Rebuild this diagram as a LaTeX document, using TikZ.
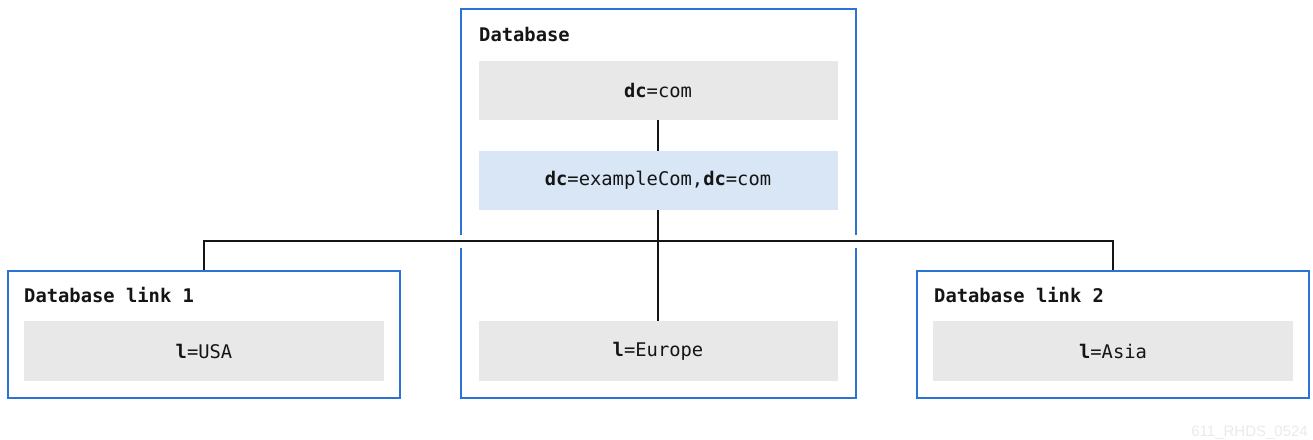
\documentclass[tikz,border=0pt]{standalone}
\usepackage{fontspec}
\setmonofont{DejaVu Sans Mono}
\setsansfont{Liberation Sans}
\definecolor{rhblue}{HTML}{2B74D6}
\definecolor{boxgray}{HTML}{E8E8E8}
\definecolor{boxblue}{HTML}{D8E6F5}
\definecolor{txt}{HTML}{151515}
\definecolor{wm}{HTML}{EAEAEA}
\tikzset{
  outerbox/.style={draw=rhblue, line width=1.6pt, fill=white, inner sep=0pt},
  entry/.style={fill=boxgray, inner sep=0pt, minimum width=359pt, minimum height=59pt,
    font=\ttfamily\fontsize{18.8}{21}\selectfont, text=txt},
  entryblue/.style={entry, fill=boxblue},
  title/.style={anchor=base west, inner sep=0pt, font=\ttfamily\bfseries\fontsize{18.8}{21}\selectfont, text=txt},
  conn/.style={draw=txt, line width=1.6pt},
  halo/.style={conn, preaction={draw=white, line width=13pt}},
}
\begin{document}
\begin{tikzpicture}[x=1pt,y=-1pt]
\useasboundingbox (0,0) rectangle (1313,439);
% outer boxes
\node[outerbox, minimum width=395pt, minimum height=389pt] (db) at (658.5,203.5) {};
\node[outerbox, minimum width=392pt, minimum height=127pt] (l1) at (204,334.5) {};
\node[outerbox, minimum width=392pt, minimum height=127pt] (l2) at (1113,334.5) {};
% titles
\node[title] (tdb) at (479,41) {Database};
\node[title] (tl1) at (24,302) {Database link 1};
\node[title] (tl2) at (934,302) {Database link 2};
% entries
\node[entry] (com) at (658,90.5) {\textbf{dc}=com};
\node[entryblue] (ex) at (658,180.5) {\textbf{dc}=exampleCom,\textbf{dc}=com};
\node[entry, minimum height=60pt] (eu) at (658,351) {\textbf{l}=Europe};
\node[entry, minimum width=360pt, minimum height=60pt] (usa) at (204,351) {\textbf{l}=USA};
\node[entry, minimum width=360pt, minimum height=60pt] (asia) at (1113,351) {\textbf{l}=Asia};
% connectors
\coordinate (busL) at (204,241);
\coordinate (busR) at (1113,241);
\draw[halo] (busL) -- (busR);
\draw[conn] (com.south) -- (ex.north);
\draw[conn] (ex.south) -- (eu.north);
\draw[conn] (busL) -- (l1.north);
\draw[conn] (busR) -- (l2.north);
\draw[conn] ([xshift=-0.8pt]busL) -- ([xshift=0.8pt]busR);
% watermark
\node[anchor=base east, inner sep=0pt, font=\sffamily\fontsize{15}{17}\selectfont, text=wm] (wmk) at (1308,436) {611\_RHDS\_0524};
\end{tikzpicture}
\end{document}
